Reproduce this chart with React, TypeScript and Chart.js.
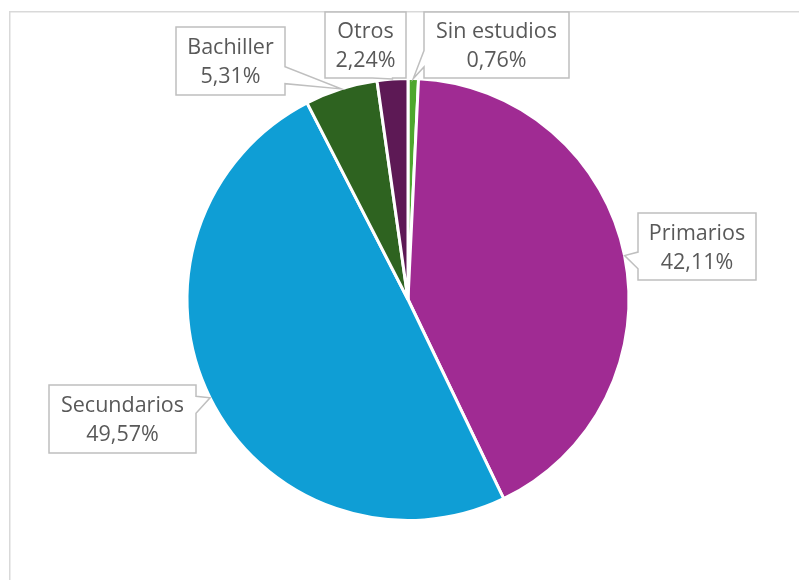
import React, { useEffect, useRef } from "react";
import { Chart, registerables } from "chart.js";

Chart.register(...registerables);

const categories = ["Sin estudios", "Primarios", "Secundarios", "Bachiller", "Otros"];
const values = [0.76, 42.11, 49.57, 5.31, 2.24];
const colors = ["#4EA72E", "#A02B93", "#0F9ED5", "#2E6320", "#5D1955"];

// Label box layout (x, y, w, h) per category
const labelBoxes = [
  [424, 12, 145, 66],
  [638, 213, 118, 67],
  [49, 385, 147, 68],
  [176, 27, 109, 68],
  [325, 12, 81, 66],
];

const FONT = '21.5px "Open Sans"';
const TEXT_COLOR = "#595959";
const BOX_STROKE = "#BFBFBF";

function calloutPath(ctx: CanvasRenderingContext2D, x: number, y: number, w: number, h: number, tx: number, ty: number) {
  const cx = x + w / 2, cy = y + h / 2;
  const inside = tx >= x && tx <= x + w && ty >= y && ty <= y + h;
  ctx.beginPath();
  if (inside) {
    ctx.rect(x, y, w, h);
    return;
  }
  const dx = tx - cx, dy = ty - cy;
  const dq = (dx * h) / w;
  const vertical = Math.abs(dy) > Math.abs(dq);
  if (!vertical) {
    const y1 = y + (h * (dy > 0 ? 7 : 2)) / 12;
    const y2 = y + (h * (dy > 0 ? 10 : 5)) / 12;
    if (dx > 0) {
      ctx.moveTo(x, y);
      ctx.lineTo(x + w, y);
      ctx.lineTo(x + w, y1);
      ctx.lineTo(tx, ty);
      ctx.lineTo(x + w, y2);
      ctx.lineTo(x + w, y + h);
      ctx.lineTo(x, y + h);
      ctx.closePath();
    } else {
      ctx.moveTo(x, y);
      ctx.lineTo(x + w, y);
      ctx.lineTo(x + w, y + h);
      ctx.lineTo(x, y + h);
      ctx.lineTo(x, y2);
      ctx.lineTo(tx, ty);
      ctx.lineTo(x, y1);
      ctx.closePath();
    }
  } else {
    const x1 = x + (w * (dx > 0 ? 7 : 2)) / 12;
    const x2 = x + (w * (dx > 0 ? 10 : 5)) / 12;
    if (dy > 0) {
      ctx.moveTo(x, y);
      ctx.lineTo(x + w, y);
      ctx.lineTo(x + w, y + h);
      ctx.lineTo(x2, y + h);
      ctx.lineTo(tx, ty);
      ctx.lineTo(x1, y + h);
      ctx.lineTo(x, y + h);
      ctx.closePath();
    } else {
      ctx.moveTo(x, y);
      ctx.lineTo(x1, y);
      ctx.lineTo(tx, ty);
      ctx.lineTo(x2, y);
      ctx.lineTo(x + w, y);
      ctx.lineTo(x + w, y + h);
      ctx.lineTo(x, y + h);
      ctx.closePath();
    }
  }
}

const framePlugin = {
  id: "frame",
  beforeDraw(chart: any) {
    const ctx = chart.ctx as CanvasRenderingContext2D;
    ctx.save();
    ctx.strokeStyle = "#D9D9D9";
    ctx.lineWidth = 1.5;
    ctx.beginPath();
    ctx.moveTo(9.75, chart.height);
    ctx.lineTo(9.75, 11.75);
    ctx.lineTo(chart.width, 11.75);
    ctx.stroke();
    ctx.restore();
  },
};

const labelPlugin = {
  id: "callouts",
  afterDraw(chart: any) {
    const ctx = chart.ctx as CanvasRenderingContext2D;
    const meta = chart.getDatasetMeta(0);
    ctx.save();
    meta.data.forEach((arc: any, i: number) => {
      const { x, y, startAngle, endAngle, outerRadius } = arc.getProps(
        ["x", "y", "startAngle", "endAngle", "outerRadius"],
        true
      );
      const mid = (startAngle + endAngle) / 2;
      const tx = x + Math.cos(mid) * outerRadius;
      const ty = y + Math.sin(mid) * outerRadius;
      const [bx, by, bw, bh] = labelBoxes[i];
      calloutPath(ctx, bx, by, bw, bh, tx, ty);
      ctx.fillStyle = "#FFFFFF";
      ctx.fill();
      ctx.strokeStyle = BOX_STROKE;
      ctx.lineWidth = 1.5;
      ctx.lineJoin = "miter";
      ctx.stroke();
      ctx.fillStyle = TEXT_COLOR;
      ctx.font = FONT;
      ctx.textAlign = "center";
      ctx.textBaseline = "alphabetic";
      const cx = bx + bw / 2;
      const cy = by + bh / 2;
      const pct = values[i].toFixed(2).replace(".", ",") + "%";
      ctx.fillText(categories[i], cx, cy - 7);
      ctx.fillText(pct, cx, cy + 22);
    });
    ctx.restore();
  },
};

export default function App() {
  const canvasRef = useRef<HTMLCanvasElement | null>(null);
  useEffect(() => {
    if (!canvasRef.current) return;
    const chart = new Chart(canvasRef.current, {
      type: "pie",
      data: {
        labels: categories,
        datasets: [
          {
            data: values,
            backgroundColor: colors,
            borderColor: "#FFFFFF",
            borderWidth: 3,
            hoverOffset: 0,
            offset: 0,
          },
        ],
      },
      options: {
        animation: false,
        responsive: true,
        maintainAspectRatio: false,
        devicePixelRatio: 1,
        layout: { padding: { top: 77, bottom: 58, left: 100, right: 83 } },
        plugins: {
          legend: { display: false },
          tooltip: { enabled: false },
        },
        events: [],
      },
      plugins: [framePlugin, labelPlugin],
    });
    return () => chart.destroy();
  }, []);
  return (
    <div style={{ position: "absolute", left: 0, top: 0, width: 799, height: 580, background: "#FFFFFF" }}>
      <canvas ref={canvasRef} />
    </div>
  );
}
